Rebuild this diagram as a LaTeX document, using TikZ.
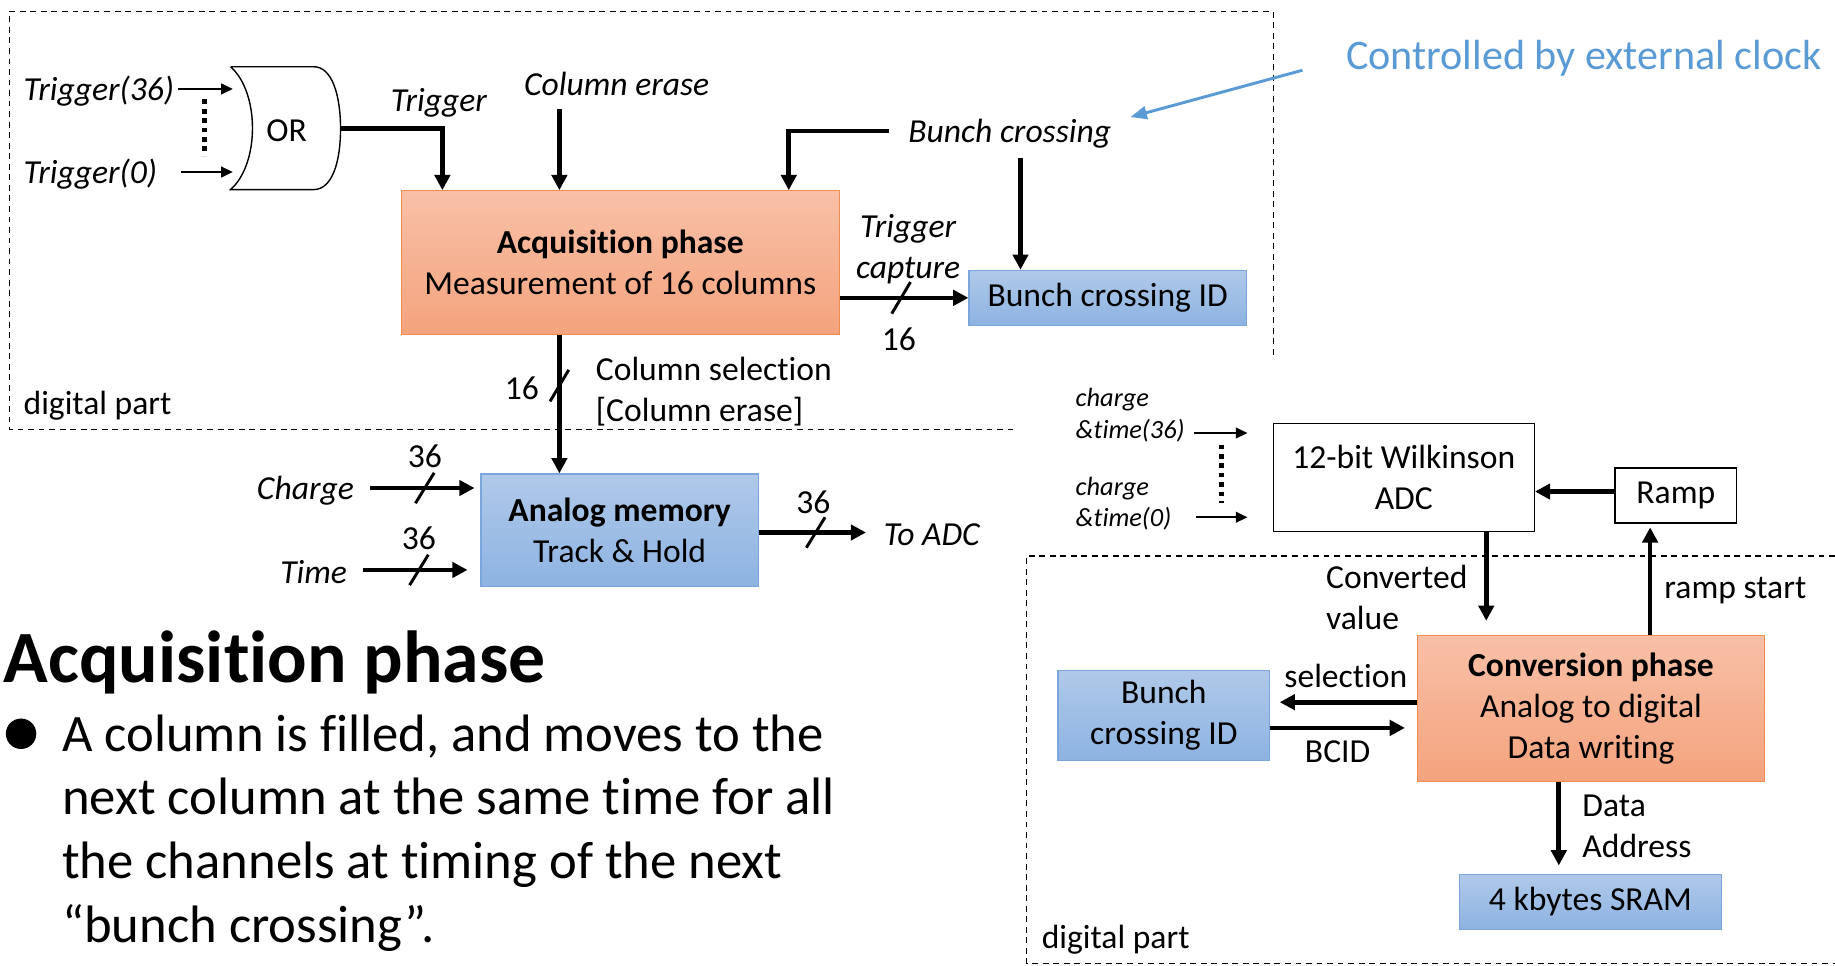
\documentclass[tikz,border=0pt]{standalone}
\usepackage{fontspec}
\setmainfont{Carlito}[Ligatures=NoCommon]
\usetikzlibrary{arrows.meta}
\definecolor{otop}{HTML}{F8C0A7}
\definecolor{obot}{HTML}{F4A37D}
\definecolor{oline}{HTML}{F08C4E}
\definecolor{btop}{HTML}{B0C9E9}
\definecolor{bbot}{HTML}{8DB3E2}
\definecolor{bline}{HTML}{7AA6DB}
\definecolor{ctrlblue}{HTML}{5B9BD5}
\begin{document}
\begin{tikzpicture}[x=1pt,y=-1pt,
 txt/.style={font=\fontsize{28.7}{35}\selectfont, inner sep=0pt, yshift=-2pt},
 itxt/.style={font=\fontsize{28.7}{35}\selectfont\itshape, inner sep=0pt, yshift=-2pt},
 stxt/.style={font=\fontsize{22.5}{27}\selectfont\itshape, inner sep=0pt, align=left, yshift=-2pt},
 obox/.style={draw=oline, line width=1pt, top color=otop, bottom color=obot, align=center, font=\fontsize{28.7}{35}\selectfont, inner sep=0pt},
 bbox/.style={draw=bline, line width=1pt, top color=btop, bottom color=bbot, align=center, font=\fontsize{28.7}{35}\selectfont, inner sep=0pt},
 wbox/.style={draw=black, line width=1.2pt, fill=white, align=center, font=\fontsize{28.7}{35}\selectfont, inner sep=0pt},
 bus/.style={line width=4pt, -{Triangle[length=13pt,width=13pt]}},
 sig/.style={line width=2pt, -{Triangle[length=10pt,width=9pt]}},
 region/.style={line width=1.1pt, dash pattern=on 5pt off 4pt},
 slash/.style={line width=2.5pt},
 dots/.style={line width=4pt, dash pattern=on 4pt off 4pt},
 bigtxt/.style={font=\fontsize{45}{54.5}\selectfont, inner sep=0pt, anchor=base west}
]
\fill[white] (0,0) rectangle (1568,825);
\useasboundingbox (0,0) rectangle (1568,825);

% regions
\draw[region] (1088,303) -- (1088,10) -- (8,10) -- (8,367) -- (866,367);
\draw[region] (1568,475) -- (877,475) -- (877,823) -- (1568,823);
\node[txt, anchor=west] (dp1) at (20,345) {digital part};
\node[txt, anchor=west] (dp2) at (890,801) {digital part};

% boxes
\node[obox, minimum width=374pt, minimum height=123pt] (acq) at (530,224.5) {\textbf{Acquisition phase}\\Measurement of 16 columns};
\node[bbox, minimum width=237pt, minimum height=47pt] (bcid1) at (946.5,254.5) {Bunch crossing ID};
\node[bbox, minimum width=237pt, minimum height=96pt] (amem) at (529.5,453) {\textbf{Analog memory}\\Track \& Hold};
\node[wbox, minimum width=223pt, minimum height=92pt] (adc) at (1199.5,408) {12-bit Wilkinson\\ADC};
\node[wbox, minimum width=104pt, minimum height=47pt] (ramp) at (1432,423.5) {Ramp};
\node[obox, minimum width=297pt, minimum height=125pt] (conv) at (1359.5,605.5) {\textbf{Conversion phase}\\Analog to digital\\Data writing};
\node[bbox, minimum width=181pt, minimum height=77pt] (bcid2) at (994.5,611.5) {Bunch\\crossing ID};
\node[bbox, minimum width=224pt, minimum height=47pt] (sram) at (1359,770.5) {4 kbytes SRAM};

% OR gate
\draw[line width=1.2pt] (197,57) -- (268,57) .. controls (284,57) and (291,82) .. (291,110) .. controls (291,138) and (284,162) .. (268,162) -- (197,162) .. controls (222,140) and (222,79) .. (197,57);
\node[txt] (orl) at (245,110) {OR};
\coordinate (gin1) at (199,76);
\coordinate (gin0) at (199,147);
\coordinate (gout) at (291,110);
\coordinate (s36) at (152,76);
\coordinate (s0) at (155,147);

% labels
\node[itxt, anchor=west] (t36) at (20,76) {Trigger(36)};
\node[itxt, anchor=west] (t0) at (20,147) {Trigger(0)};
\node[itxt] (trig) at (375,86) {Trigger};
\node[itxt] (ce) at (527,70) {Column erase};
\node[itxt, anchor=west] (bc) at (776,112) {Bunch crossing};
\node[itxt, align=center] (tc) at (776,211) {Trigger\\capture};
\node[txt] (n16a) at (768,288) {16};
\node[txt] (n16b) at (446,330) {16};
\node[txt, anchor=west, align=left] (colsel) at (509,332.5) {Column selection\\{[Column erase]}};
\node[itxt] (chg) at (261,417) {Charge};
\node[itxt] (tim) at (268,487) {Time};
\node[txt] (n36a) at (363,388) {36};
\node[txt] (n36b) at (358,458) {36};
\node[txt] (n36c) at (695,427) {36};
\node[itxt, anchor=west] (toadc) at (755,455) {To ADC};
\node[font=\fontsize{36}{43}\selectfont, text=ctrlblue, inner sep=0pt, anchor=west, yshift=-2pt] (ctrl) at (1150,48) {Controlled by external clock};

% left connectors
\draw[sig] (s36) -- (gin1);
\draw[sig] (s0) -- (gin0);
\draw[dots] (175,85) -- (175,133);
\coordinate (trigx) at (378,0);
\draw[bus] (gout) -| (acq.north -| trigx);
\coordinate (cex) at (478,93);
\draw[bus] (cex) -- (acq.north -| cex);
\coordinate (bcx) at (674,0);
\coordinate (bcs) at (760,112);
\draw[bus] (bcs) -| (acq.north -| bcx);
\coordinate (bcd) at (872,135);
\draw[bus] (bcd) -- (bcid1.north -| bcd);
\draw[bus] (acq.east |- bcid1.west) -- (bcid1.west);
\draw[slash] (762,268) -- (778,241);
\draw[bus] (acq.south -| cex) -- (amem.north -| cex);
\draw[slash] (470,343) -- (486,316);
\coordinate (chs) at (316,417);
\draw[bus, shorten >=5pt] (chs) -- (amem.west |- chs);
\draw[slash] (355,430) -- (371,404);
\coordinate (tis) at (310,487);
\draw[bus, shorten >=11pt] (tis) -- (amem.west |- tis);
\draw[slash] (350,500) -- (366,474);
\coordinate (tae) at (740,455);
\draw[bus] (amem.east |- tae) -- (tae);
\draw[slash] (689,468) -- (705,442);
\coordinate (cs1) at (1113,60);
\coordinate (ce1) at (966,100);
\draw[line width=2.5pt, ctrlblue, -{Triangle[length=14pt,width=11pt]}] (cs1) -- (ce1);

% right side
\node[stxt, anchor=west] (ct36) at (919,352.5) {charge\\\&time(36)};
\node[stxt, anchor=west] (ct0) at (919,428.5) {charge\\\&time(0)};
\coordinate (a36s) at (1020,370);
\coordinate (a36e) at (1066,370);
\coordinate (a0s) at (1022,442);
\coordinate (a0e) at (1066,442);
\draw[sig] (a36s) -- (a36e);
\draw[sig] (a0s) -- (a0e);
\draw[dots] (1044,380) -- (1044,430);
\coordinate (rampy) at (0,420);
\draw[bus] (ramp.west |- rampy) -- (adc.east |- rampy);
\coordinate (cvx) at (1270,0);
\draw[bus, shorten >=12pt] (adc.south -| cvx) -- (conv.north -| cvx);
\node[txt, anchor=west, align=left] (cv) at (1133,508.5) {Converted\\value};
\coordinate (rsx) at (1410,0);
\draw[bus, shorten >=3pt] (conv.north -| rsx) -- (ramp.south -| rsx);
\node[txt, anchor=west] (rs) at (1422,503) {ramp start};
\coordinate (sely) at (0,600);
\draw[bus, shorten >=8pt] (conv.west |- sely) -- (bcid2.east |- sely);
\node[txt] (sel) at (1150,576) {selection};
\coordinate (bciy) at (0,622);
\draw[bus, shorten >=10pt] (bcid2.east |- bciy) -- (conv.west |- bciy);
\node[txt] (bcidl) at (1143,640) {BCID};
\coordinate (dax) at (1332,0);
\draw[bus, shorten >=7pt] (conv.south -| dax) -- (sram.north -| dax);
\node[txt, anchor=west, align=left] (da) at (1352,704.5) {Data\\Address};

% heading and bullet text
\node[font=\fontsize{63}{75}\selectfont\bfseries, inner sep=0pt, anchor=base west] (head) at (3,583) {Acquisition phase};
\node[circle, fill=black, minimum size=26pt, inner sep=0pt] (bullet) at (18,627) {};
\node[bigtxt] (l1) at (53,642) {A column is filled, and moves to the};
\node[bigtxt] (l2) at (53,696) {next column at the same time for all};
\node[bigtxt] (l3) at (53,751) {the channels at timing of the next};
\node[bigtxt] (l4) at (53,805) {“bunch crossing”.};
\end{tikzpicture}
\end{document}
